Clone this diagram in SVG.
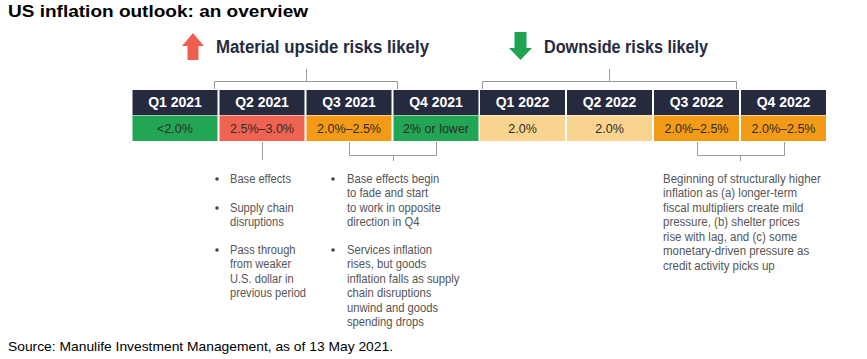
<svg xmlns="http://www.w3.org/2000/svg" width="867" height="359" viewBox="0 0 867 359">
<style>
  .hd { fill: #262a3f; }
  .hdt { font-family: "Liberation Sans", Arial, sans-serif; font-weight: bold; font-size: 14px; fill: #ffffff; text-anchor: middle; }
  .vt { font-family: "Liberation Sans", Arial, sans-serif; font-size: 12.5px; fill: #2e2a26; text-anchor: middle; }
  .br { fill: none; stroke: #9a9a9a; stroke-width: 1; }
  .body { font-family: "Liberation Sans", Arial, sans-serif; font-size: 12.5px; fill: #555555; }
  .risk { font-family: "Liberation Sans", Arial, sans-serif; font-weight: bold; font-size: 18px; fill: #262a3f; }
  .bul { fill: #444444; }
</style>
<rect width="867" height="359" fill="#ffffff"/>
<text x="8" y="17" font-family="Liberation Sans, Arial, sans-serif" font-weight="bold" font-size="17" fill="#000000" textLength="300" lengthAdjust="spacingAndGlyphs">US inflation outlook: an overview</text>

<g id="upside">
  <polygon points="193,33 204,46 198.5,46 198.5,60 187.5,60 187.5,46 182,46" fill="#ef5f4f"/>
  <text class="risk" x="216" y="53" textLength="213" lengthAdjust="spacingAndGlyphs">Material upside risks likely</text>
</g>
<g id="downside">
  <polygon points="514.5,32 526.5,32 526.5,48 532,48 520.5,60 509,48 514.5,48" fill="#21a452"/>
  <text class="risk" x="544" y="53" textLength="164" lengthAdjust="spacingAndGlyphs">Downside risks likely</text>
</g>

<g id="table">
  <g id="q1-2021">
    <rect class="hd" x="132.5" y="90" width="85" height="25"/>
    <text class="hdt" x="175" y="107">Q1 2021</text>
    <rect x="132.5" y="115.5" width="85" height="25.5" fill="#22a655"/>
    <text class="vt" x="175" y="133" fill="#0f3a1e">&lt;2.0%</text>
  </g>
  <g id="q2-2021">
    <rect class="hd" x="219.5" y="90" width="85" height="25"/>
    <text class="hdt" x="262" y="107">Q2 2021</text>
    <rect x="219.5" y="115.5" width="85" height="25.5" fill="#ee6352"/>
    <text class="vt" x="262" y="133">2.5%–3.0%</text>
  </g>
  <g id="q3-2021">
    <rect class="hd" x="306.5" y="90" width="85" height="25"/>
    <text class="hdt" x="349" y="107">Q3 2021</text>
    <rect x="306.5" y="115.5" width="85" height="25.5" fill="#f39b16"/>
    <text class="vt" x="349" y="133">2.0%–2.5%</text>
  </g>
  <g id="q4-2021">
    <rect class="hd" x="393.5" y="90" width="85" height="25"/>
    <text class="hdt" x="436" y="107">Q4 2021</text>
    <rect x="393.5" y="115.5" width="85" height="25.5" fill="#22a655"/>
    <text class="vt" x="436" y="133" fill="#0f3a1e">2% or lower</text>
  </g>
  <g id="q1-2022">
    <rect class="hd" x="480" y="90" width="85" height="25"/>
    <text class="hdt" x="522.5" y="107">Q1 2022</text>
    <rect x="480" y="115.5" width="85" height="25.5" fill="#f8d48e"/>
    <text class="vt" x="522.5" y="133">2.0%</text>
  </g>
  <g id="q2-2022">
    <rect class="hd" x="567" y="90" width="85" height="25"/>
    <text class="hdt" x="609.5" y="107">Q2 2022</text>
    <rect x="567" y="115.5" width="85" height="25.5" fill="#f8d48e"/>
    <text class="vt" x="609.5" y="133">2.0%</text>
  </g>
  <g id="q3-2022">
    <rect class="hd" x="654" y="90" width="85" height="25"/>
    <text class="hdt" x="696.5" y="107">Q3 2022</text>
    <rect x="654" y="115.5" width="85" height="25.5" fill="#f39b16"/>
    <text class="vt" x="696.5" y="133">2.0%–2.5%</text>
  </g>
  <g id="q4-2022">
    <rect class="hd" x="741" y="90" width="85" height="25"/>
    <text class="hdt" x="783.5" y="107">Q4 2022</text>
    <rect x="741" y="115.5" width="85" height="25.5" fill="#f39b16"/>
    <text class="vt" x="783.5" y="133">2.0%–2.5%</text>
  </g>
</g>

<g id="connectors">
  <path class="br" d="M214.5,89 V81.5 H397.5 V89 M306.5,69 V81.5"/>
  <path class="br" d="M482.5,89 V81.5 H736.5 V89 M609.5,69 V81.5"/>
  <path class="br" d="M262.5,142 V160"/>
  <path class="br" d="M349.5,142 V155.5 H436.5 V142 M393.5,155.5 V161"/>
  <path class="br" d="M697.5,142 V155.5 H784.5 V142 M740.5,155.5 V161"/>
</g>

<g id="notes-q2">
  <circle class="bul" cx="217" cy="179" r="1.8"/>
  <circle class="bul" cx="217" cy="208" r="1.8"/>
  <circle class="bul" cx="217" cy="250" r="1.8"/>
  <g transform="translate(230 0) scale(0.89 1)" class="body">
    <text x="0" y="183">Base effects</text>
    <text x="0" y="212">Supply chain</text>
    <text x="0" y="226.5">disruptions</text>
    <text x="0" y="254">Pass through</text>
    <text x="0" y="268.5">from weaker</text>
    <text x="0" y="283">U.S. dollar in</text>
    <text x="0" y="297.5">previous period</text>
  </g>
</g>

<g id="notes-q3q4">
  <circle class="bul" cx="333" cy="179" r="1.8"/>
  <circle class="bul" cx="333" cy="250" r="1.8"/>
  <g transform="translate(347 0) scale(0.9 1)" class="body">
    <text x="0" y="183">Base effects begin</text>
    <text x="0" y="197.5">to fade and start</text>
    <text x="0" y="212">to work in opposite</text>
    <text x="0" y="226.5">direction in Q4</text>
    <text x="0" y="254">Services inflation</text>
    <text x="0" y="268.5">rises, but goods</text>
    <text x="0" y="283">inflation falls as supply</text>
    <text x="0" y="297.5">chain disruptions</text>
    <text x="0" y="312">unwind and goods</text>
    <text x="0" y="326.5">spending drops</text>
  </g>
</g>

<g id="notes-2022">
  <g transform="translate(663 0) scale(0.92 1)" class="body">
    <text x="0" y="183">Beginning of structurally higher</text>
    <text x="0" y="197.5">inflation as (a) longer-term</text>
    <text x="0" y="212">fiscal multipliers create mild</text>
    <text x="0" y="226.5">pressure, (b) shelter prices</text>
    <text x="0" y="241">rise with lag, and (c) some</text>
    <text x="0" y="255.5">monetary-driven pressure as</text>
    <text x="0" y="270">credit activity picks up</text>
  </g>
</g>

<text x="8" y="351" font-family="Liberation Sans, Arial, sans-serif" font-size="13" fill="#000000" textLength="385" lengthAdjust="spacingAndGlyphs">Source: Manulife Investment Management, as of 13 May 2021.</text>
</svg>
